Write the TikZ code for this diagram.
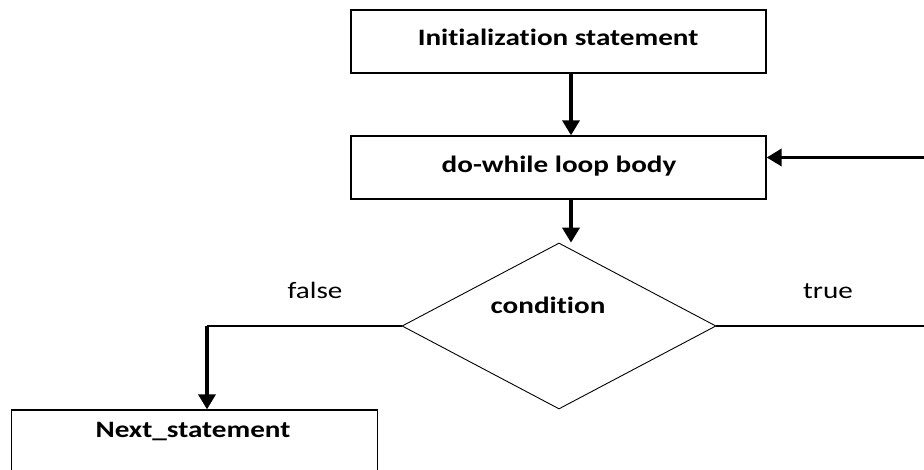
\documentclass[tikz,border=0pt]{standalone}
\usepackage{fontspec}
\setmainfont{Carlito}[Ligatures=NoCommon]
\usetikzlibrary{shapes.geometric,arrows.meta,calc}
\tikzset{
  stepbox/.style={draw=black, line width=1.3pt, rectangle, inner sep=0pt},
  decision/.style={draw=black, line width=0.9pt, diamond, inner sep=0pt, minimum width=314pt, minimum height=166pt},
  caption/.style={font=\fontsize{23.5}{26}\selectfont\bfseries, inner sep=0pt, anchor=center, xscale=1.24},
  branch/.style={font=\fontsize{23.5}{26}\selectfont, inner sep=0pt, anchor=center, xscale=1.24},
  flow/.style={line width=3.5pt, -{Triangle[length=15pt,width=17pt]}},
  thinline/.style={line width=1.3pt},
}
\begin{document}
\begin{tikzpicture}[x=1pt,y=-1pt]
  \useasboundingbox (0,0) rectangle (924,470);
  \clip (0,0) rectangle (924,470);

  % process boxes
  \node[stepbox, minimum width=415pt, minimum height=63pt] (init) at (558.5,41.5) {};
  \node[stepbox, minimum width=415pt, minimum height=63pt] (body) at (558.5,167.5) {};
  \node[stepbox, minimum width=366pt, minimum height=90pt] (next) at (194.7,455) {};
  \node[decision] (cond) at (559,326) {};

  % box texts, set near the top of each box
  \node[caption] (initlbl) at (558,37) {Initialization statement};
  \node[caption] (bodylbl) at (559,166) {do-while loop body};
  \node[caption] (nextlbl) at (193,432) {Next\_statement};
  \node[caption] (condlbl) at (548,305) {condition};
  \node[branch] (falselbl) at (315,290) {false};
  \node[branch] (truelbl) at (828,291) {true};

  % turning points of the branches
  \coordinate (fcorner) at (207,326);
  \coordinate (tcorner) at (940,326);
  \coordinate (tback) at (940,157.5);

  % straight flow
  \draw[flow] ($(init.south)+(12.5,0)$) -- ($(body.north)+(12.5,0)$);
  \draw[flow] ($(body.south)+(12.5,0)$) -- ($(body.south)+(12.5,43)$);

  % false branch
  \draw[thinline] (cond.west) -- (fcorner);
  \draw[flow] (fcorner) -- (fcorner |- next.north);

  % true branch, back into the loop body
  \draw[thinline] (cond.east) -- (tcorner) -- (tback);
  \draw[flow] (tback) -- (tback -| body.east);
\end{tikzpicture}
\end{document}
